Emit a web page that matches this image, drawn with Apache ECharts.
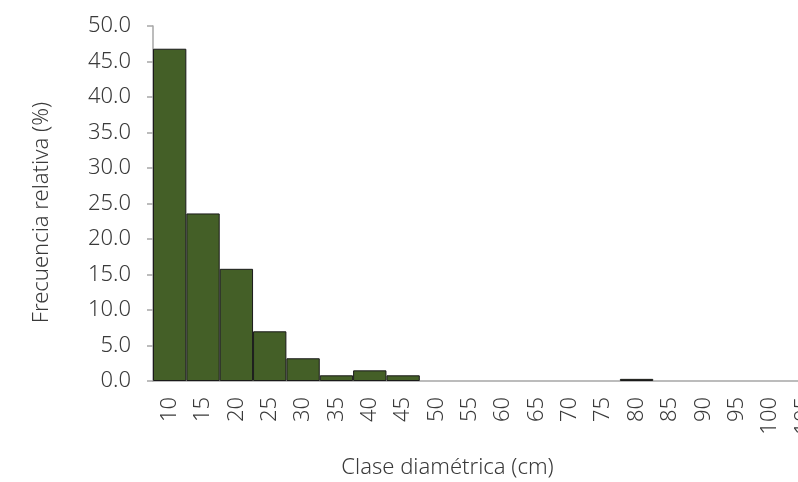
<!DOCTYPE html>
<html>
<head>
<meta charset="utf-8">
<script src="https://cdn.jsdelivr.net/npm/echarts@6/dist/echarts.min.js"></script>
<style>
html,body{margin:0;padding:0;background:#fff;}
#chart{width:798px;height:482px;}
</style>
</head>
<body>
<div id="chart"></div>
<script>
// clases diametricas (cm)
var clases = ['10','15','20','25','30','35','40','45','50','55','60','65','70','75','80','85','90','95','100','105'];
// frecuencia relativa (%)
var frecuencia = [46.8, 23.6, 15.8, 7.0, 3.2, 0.8, 1.5, 0.8, 0, 0, 0, 0, 0, 0, 0.3, 0, 0, 0, 0, 0];
var yMin = 0, yMax = 50, yStep = 5;

var fuente = 'Noto Sans';
var gris = '#a6a6a6';
var texto = '#3a3a3a';

var myChart = echarts.init(document.getElementById('chart'));
var option = {
	animation:false,
	grid:{
		left:153,
		top:26,
		width:667,
		height:355,
		outerBoundsMode:'none',
		containLabel:false
	},
	xAxis:{
		type:'category',
		data:clases,
		name:'Clase diamétrica (cm)',
		nameLocation:'middle',
		nameGap:76,
		nameTextStyle:{fontFamily:fuente,fontSize:22,fontWeight:300,color:texto,padding:[0,78,0,0]},
		axisLine:{lineStyle:{color:gris,width:1.5}},
		axisTick:{show:false},
		axisLabel:{
			rotate:90,
			interval:0,
			margin:16,
			fontFamily:fuente,
			fontSize:22,
			fontWeight:300,
			color:texto
		}
	},
	yAxis:{
		type:'value',
		min:yMin,
		max:yMax,
		interval:yStep,
		name:'Frecuencia relativa (%)',
		nameLocation:'middle',
		nameGap:100,
		nameTextStyle:{fontFamily:fuente,fontSize:22,fontWeight:300,color:texto,padding:[0,18,0,0]},
		axisLine:{show:true,lineStyle:{color:gris,width:1.5}},
		axisTick:{show:true,length:6,lineStyle:{color:gris,width:1.5}},
		splitLine:{show:false},
		axisLabel:{
			margin:22,
			fontFamily:fuente,
			fontSize:22,
			fontWeight:300,
			color:texto,
			formatter:function(v){return v.toFixed(1);}
		}
	},
	series:[{
		type:'bar',
		// las clases vacias no se dibujan
		data:frecuencia.map(function(v){return v > 0 ? v : '-';}),
		barCategoryGap:'0%',
		itemStyle:{color:'#445f27',borderColor:'#1a1a1a',borderWidth:1}
	}]
};
myChart.setOption(option);
window.onresize = myChart.resize;
</script>
</body>
</html>
